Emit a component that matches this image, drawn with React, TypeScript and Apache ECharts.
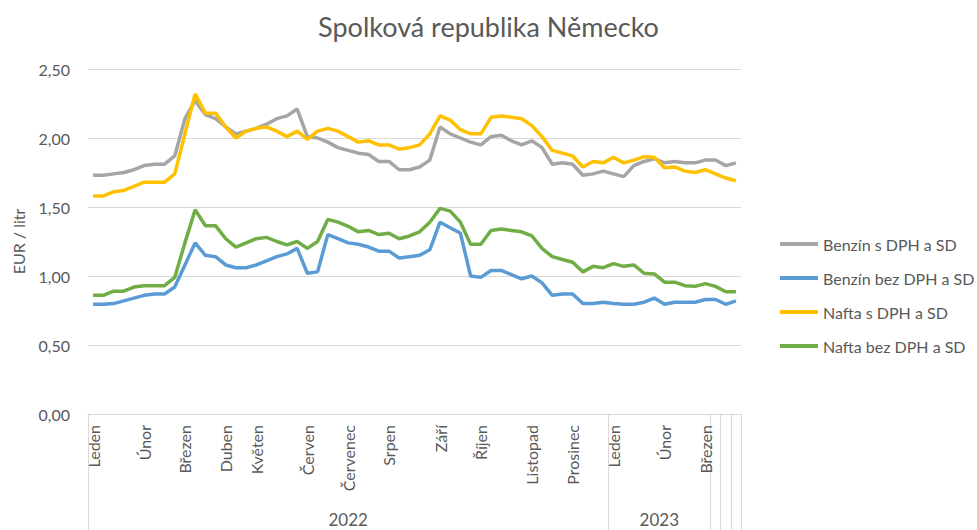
import React, { useEffect, useRef } from 'react';
import * as echarts from 'echarts';

const FONT = 'Lato, "Noto Sans", sans-serif';
const TEXT = '#595959';
const GRID = '#d9d9d9';

// Month labels (first week of each month) and number of weekly points per month
const monthNames = ['Leden', 'Únor', 'Březen', 'Duben', 'Květen', 'Červen', 'Červenec', 'Srpen', 'Září', 'Říjen', 'Listopad', 'Prosinec', 'Leden', 'Únor', 'Březen'];
const weeksPerMonth = [5, 4, 4, 3, 5, 4, 4, 5, 4, 5, 4, 4, 5, 4, 4];

// Outer (year) level of the category axis
const yearNames = ['2022', '2023', '', '', ''];
const yearGroupSizes = [51, 10, 1, 1, 1];

const seriesNames = ['Benzín s DPH a SD', 'Benzín bez DPH a SD', 'Nafta s DPH a SD', 'Nafta bez DPH a SD'];

const benzinS = [
  1.73, 1.73, 1.74, 1.75, 1.77, 1.80, 1.81, 1.81, 1.87, 2.14,
  2.27, 2.17, 2.14, 2.08, 2.03, 2.05, 2.07, 2.10, 2.14, 2.16,
  2.21, 2.01, 2.00, 1.97, 1.93, 1.91, 1.89, 1.88, 1.83, 1.83,
  1.77, 1.77, 1.79, 1.84, 2.08, 2.03, 2.00, 1.97, 1.95, 2.01,
  2.02, 1.98, 1.95, 1.98, 1.93, 1.81, 1.82, 1.81, 1.73, 1.74,
  1.76, 1.74, 1.72, 1.80, 1.83, 1.85, 1.82, 1.83, 1.82, 1.82,
  1.84, 1.84, 1.80, 1.82,
];
const benzinBez = [
  0.795, 0.795, 0.80, 0.82, 0.84, 0.86, 0.87, 0.87, 0.92, 1.08,
  1.24, 1.15, 1.14, 1.08, 1.06, 1.06, 1.08, 1.11, 1.14, 1.16,
  1.20, 1.02, 1.03, 1.30, 1.27, 1.24, 1.23, 1.21, 1.18, 1.18,
  1.13, 1.14, 1.15, 1.19, 1.39, 1.35, 1.31, 1.00, 0.99, 1.04,
  1.04, 1.01, 0.98, 1.00, 0.95, 0.86, 0.87, 0.87, 0.80, 0.80,
  0.81, 0.80, 0.795, 0.795, 0.81, 0.84, 0.795, 0.81, 0.81, 0.81,
  0.83, 0.83, 0.795, 0.82,
];
const naftaS = [
  1.58, 1.58, 1.61, 1.62, 1.65, 1.68, 1.68, 1.68, 1.74, 2.03,
  2.32, 2.18, 2.18, 2.08, 2.00, 2.05, 2.07, 2.08, 2.05, 2.01,
  2.05, 1.99, 2.05, 2.07, 2.05, 2.01, 1.97, 1.98, 1.95, 1.95,
  1.92, 1.93, 1.95, 2.03, 2.16, 2.13, 2.06, 2.03, 2.03, 2.15,
  2.16, 2.15, 2.14, 2.09, 2.01, 1.91, 1.89, 1.87, 1.79, 1.83,
  1.82, 1.86, 1.82, 1.84, 1.865, 1.86, 1.785, 1.79, 1.76, 1.75,
  1.77, 1.74, 1.71, 1.69,
];
const naftaBez = [
  0.86, 0.86, 0.89, 0.89, 0.92, 0.93, 0.93, 0.93, 0.99, 1.24,
  1.48, 1.365, 1.365, 1.27, 1.21, 1.24, 1.27, 1.28, 1.25, 1.225,
  1.25, 1.20, 1.25, 1.41, 1.39, 1.36, 1.32, 1.33, 1.30, 1.31,
  1.27, 1.29, 1.32, 1.39, 1.49, 1.47, 1.39, 1.23, 1.23, 1.33,
  1.34, 1.33, 1.32, 1.29, 1.20, 1.14, 1.12, 1.10, 1.03, 1.07,
  1.06, 1.09, 1.07, 1.08, 1.02, 1.015, 0.955, 0.955, 0.93, 0.925,
  0.945, 0.925, 0.886, 0.886,
];
const seriesColors = ['#A5A5A5', '#5B9BD5', '#FFC000', '#70AD47'];

const yTicks = { min: 0, max: 2.5, interval: 0.5 };

// Build category axis helpers
const monthLabelAt: string[] = [];
monthNames.forEach((m, k) => {
  for (let w = 0; w < weeksPerMonth[k]; w++) monthLabelAt.push(w === 0 ? m : '');
});
const categories = monthLabelAt.map((_, i) => 'w' + i);

const yearLabelAt: string[] = new Array(categories.length).fill('');
const boundaryIdx = new Set<number>();
let start = 0;
yearGroupSizes.forEach((size, k) => {
  boundaryIdx.add(start);
  if (yearNames[k]) {
    const mid = start + (size - 1) / 2;
    const idx = Math.floor(mid);
    yearLabelAt[idx] = mid === idx ? yearNames[k] : '{h|' + yearNames[k] + '}';
  }
  start += size;
});

export default function App() {
  const ref = useRef<HTMLDivElement>(null);
  useEffect(() => {
    const chart = echarts.init(ref.current!, null, { renderer: 'svg' });
    const dataSets = [benzinS, benzinBez, naftaS, naftaBez];
    chart.setOption({
      animation: false,
      backgroundColor: '#ffffff',
      textStyle: { fontFamily: FONT },
      title: {
        text: 'Spolková republika Německo',
        left: 'center',
        top: 8,
        textStyle: { fontFamily: FONT, fontSize: 27, fontWeight: 'normal', color: TEXT },
      },
      legend: {
        orient: 'vertical',
        left: 775,
        top: 229,
        icon: 'rect',
        itemWidth: 38,
        itemHeight: 4,
        itemGap: 14,
        data: seriesNames,
        textStyle: { fontFamily: FONT, fontSize: 16, color: TEXT, lineHeight: 20 },
      },
      grid: { left: 88, right: 236, top: 69, bottom: 116, containLabel: false },
      xAxis: [
        {
          type: 'category',
          data: categories,
          boundaryGap: true,
          axisLine: { show: true, lineStyle: { color: GRID, width: 1 } },
          axisTick: { show: false },
          axisLabel: {
            interval: 0,
            rotate: 90,
            margin: 11,
            fontFamily: FONT,
            fontSize: 16,
            color: TEXT,
            formatter: (_v: string, idx: number) => monthLabelAt[idx],
          },
          splitLine: { show: false },
        },
        {
          type: 'category',
          data: categories,
          position: 'bottom',
          boundaryGap: true,
          axisLine: { show: false },
          axisTick: {
            show: true,
            interval: (idx: number) => boundaryIdx.has(idx),
            length: 130,
            lineStyle: { color: GRID, width: 1 },
          },
          axisLabel: {
            interval: 0,
            margin: 97,
            fontFamily: FONT,
            fontSize: 17,
            color: TEXT,
            formatter: (_v: string, idx: number) => yearLabelAt[idx],
            rich: { h: { fontFamily: FONT, fontSize: 17, color: TEXT, padding: [0, 0, 0, 10] } },
          },
          splitLine: { show: false },
        },
      ],
      yAxis: {
        type: 'value',
        min: yTicks.min,
        max: yTicks.max,
        interval: yTicks.interval,
        name: 'EUR / litr',
        nameLocation: 'middle',
        nameGap: 62,
        nameTextStyle: { fontFamily: FONT, fontSize: 16, color: TEXT },
        axisLine: { show: false },
        axisTick: { show: false },
        axisLabel: {
          margin: 18,
          fontFamily: FONT,
          fontSize: 16,
          color: TEXT,
          formatter: (v: number) => v.toFixed(2).replace('.', ','),
        },
        splitLine: { lineStyle: { color: GRID, width: 1 } },
      },
      series: seriesNames.map((name, k) => ({
        name,
        type: 'line',
        xAxisIndex: 0,
        data: dataSets[k],
        symbol: 'none',
        showSymbol: false,
        smooth: false,
        color: seriesColors[k],
        lineStyle: { width: 3.5, color: seriesColors[k] },
        itemStyle: { color: seriesColors[k] },
      })),
    });
    return () => chart.dispose();
  }, []);
  return <div ref={ref} style={{ position: 'fixed', left: 0, top: 0, width: 977, height: 530 }} />;
}
